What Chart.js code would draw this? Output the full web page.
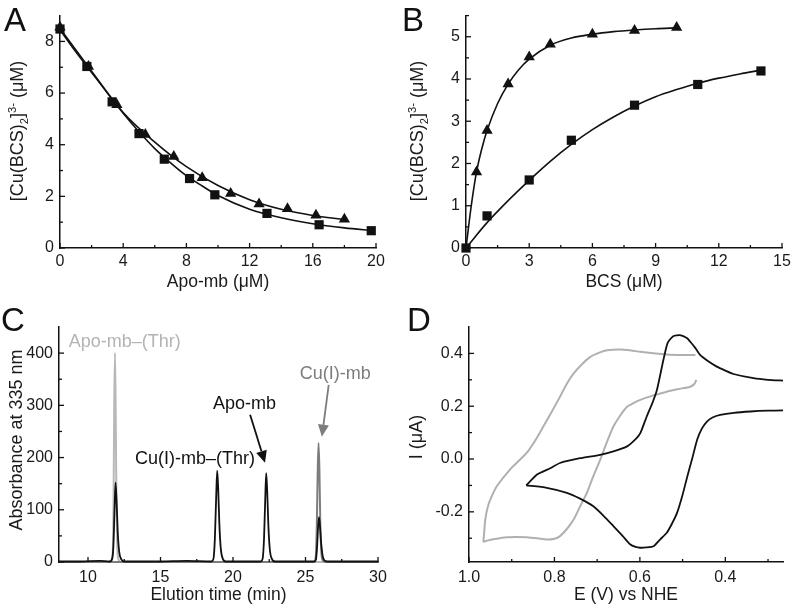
<!DOCTYPE html>
<html>
<head>
<meta charset="utf-8">
<script src="https://cdn.jsdelivr.net/npm/chart.js@4"></script>
<style>
body { margin: 0; background: #fff; font-family: "Liberation Sans", Arial, sans-serif; }
#fig { position: relative; width: 796px; height: 611px; overflow: hidden; }
canvas { position: absolute; }
.lab { position: absolute; font-size: 33px; line-height: 1; color: #111; }
.ytit { position: absolute; font-size: 18px; line-height: 1; color: #1a1a1a; white-space: nowrap; transform: translate(-50%, -50%) rotate(-90deg); }
.ytit sub, .ytit sup { font-size: 0.62em; line-height: 0; }
</style>
</head>
<body>
<div id="fig">
  <canvas id="cA" width="398" height="300" style="left:0;top:0"></canvas>
  <canvas id="cB" width="396" height="300" style="left:400px;top:0"></canvas>
  <canvas id="cC" width="398" height="311" style="left:0;top:300px"></canvas>
  <canvas id="cD" width="396" height="311" style="left:400px;top:300px"></canvas>
  <div class="lab" style="left:4px;top:3px">A</div>
  <div class="lab" style="left:402px;top:3px">B</div>
  <div class="lab" style="left:1px;top:303px">C</div>
  <div class="lab" style="left:407px;top:303px">D</div>
  <div class="ytit" style="left:17px;top:131px">[Cu(BCS)<sub>2</sub>]<sup>3-</sup> (μM)</div>
  <div class="ytit" style="left:417px;top:131px">[Cu(BCS)<sub>2</sub>]<sup>3-</sup> (μM)</div>
  <div class="ytit" style="left:16px;top:440px">Absorbance at 335 nm</div>
  <div class="ytit" style="left:416px;top:437px">I (μA)</div>
</div>
<script>
// ---- panel A : titration with apo-mb
const aSqX = [0, 1.7, 3.3, 5.0, 6.6, 8.2, 9.8, 13.1, 16.4, 19.7];
const aSqY = [8.48, 7.03, 5.66, 4.43, 3.44, 2.69, 2.06, 1.34, 0.9, 0.67];
const aTriX = [0, 1.8, 3.6, 5.4, 7.2, 9.0, 10.8, 12.6, 14.4, 16.2, 18.0];
const aTriY = [8.55, 7.03, 5.55, 4.4, 3.54, 2.72, 2.11, 1.7, 1.52, 1.27, 1.11];
const aSqFitX = [0, 1, 2, 3, 4, 5, 6, 7, 8, 9, 10, 12, 14, 16, 18, 19.8];
const aSqFitY = [8.45, 7.6, 6.8, 6.0, 5.22, 4.5, 3.85, 3.3, 2.8, 2.4, 2.03, 1.5, 1.17, 0.94, 0.78, 0.67];
const aTriFitX = [0, 2, 4, 6, 8, 10, 12, 14, 16, 18];
const aTriFitY = [8.5, 6.85, 5.25, 4.1, 3.15, 2.42, 1.87, 1.5, 1.26, 1.1];
const aXMajor = [0, 4, 8, 12, 16, 20], aXMinor = [2, 6, 10, 14, 18];
const aYMajor = [0, 2, 4, 6, 8], aYMinor = [1, 3, 5, 7];

// ---- panel B : BCS competition
const bTriX = [0.5, 1, 2, 3, 4, 6, 8, 10];
const bTriY = [1.8, 2.78, 3.88, 4.52, 4.82, 5.06, 5.15, 5.22];
const bSqX = [0, 1, 3, 5, 8, 11, 14];
const bSqY = [0, 0.76, 1.61, 2.55, 3.38, 3.87, 4.19];
const bTriFitX = [0, 0.25, 0.5, 0.75, 1, 1.5, 2, 2.5, 3, 4, 5, 6, 7, 8, 9, 10];
const bTriFitY = [0, 1.0, 1.8, 2.35, 2.78, 3.42, 3.88, 4.22, 4.47, 4.8, 4.97, 5.06, 5.12, 5.16, 5.19, 5.21];
const bSqFitX = [0, 1, 2, 3, 4, 5, 6, 7, 8, 9, 10, 11, 12, 13, 14];
const bSqFitY = [0, 0.6, 1.12, 1.6, 2.05, 2.45, 2.8, 3.1, 3.36, 3.58, 3.75, 3.9, 4.02, 4.12, 4.21];
const bXMajor = [0, 3, 6, 9, 12, 15], bXMinor = [1.5, 4.5, 7.5, 10.5, 13.5];
const bYMajor = [0, 1, 2, 3, 4, 5], bYMinor = [0.5, 1.5, 2.5, 3.5, 4.5, 5.5];

// ---- panel C : HPLC traces
const cBlackT = [8, 9.5, 10.8, 11.5, 11.65, 11.75, 11.83, 11.9, 11.97, 12.05, 12.15, 12.3, 12.5, 15, 16.8, 18.5, 18.65, 18.75, 18.84, 18.91, 18.98, 19.06, 19.16, 19.3, 19.5, 21.9, 22.04, 22.14, 22.22, 22.29, 22.36, 22.44, 22.54, 22.68, 22.9, 25.6, 25.72, 25.8, 25.87, 25.93, 26.0, 26.08, 26.18, 26.3, 26.5, 30];
const cBlackA = [1, 1, 2, 1, 5, 30, 100, 152, 118, 58, 20, 5, 1, 1, 2, 1, 6, 45, 125, 175, 140, 72, 25, 6, 1, 1, 6, 45, 118, 170, 135, 70, 24, 6, 1, 1, 5, 30, 68, 86, 68, 36, 12, 3, 1, 1];
const cLightT = [8, 11.6, 11.7, 11.76, 11.81, 11.86, 11.91, 11.96, 12.02, 12.1, 12.25, 30];
const cLightA = [0, 0, 12, 110, 300, 400, 290, 120, 30, 5, 0, 0];
const cDarkT = [8, 25.6, 25.71, 25.78, 25.84, 25.9, 25.96, 26.02, 26.09, 26.18, 26.32, 30];
const cDarkA = [0, 0, 10, 70, 170, 228, 175, 75, 20, 4, 0, 0];
const cLabelText = ['Apo-mb–(Thr)', 'Cu(I)-mb–(Thr)', 'Apo-mb', 'Cu(I)-mb'];
const cLabelX = [12.54, 17.38, 20.8, 27.05];
const cLabelY = [422, 197, 303, 360];
const cLabelColor = ['#b3b3b3', '#111', '#111', '#7d7d7d'];
const cArrowFrom = [[21.18, 282], [26.6, 339]];
const cArrowTo = [[22.21, 190], [26.13, 240]];
const cArrowColor = ['#111', '#7d7d7d'];
const cXMajor = [10, 15, 20, 25, 30], cXMinor = [12.5, 17.5, 22.5, 27.5];
const cYMajor = [0, 100, 200, 300, 400], cYMinor = [50, 150, 250, 350];

// ---- panel D : cyclic voltammograms
const dBlackUpV = [0.866, 0.84, 0.81, 0.787, 0.74, 0.693, 0.66, 0.63, 0.61, 0.599, 0.584, 0.57, 0.56, 0.545, 0.535, 0.522, 0.506, 0.49, 0.482, 0.47, 0.459, 0.44, 0.42, 0.40, 0.381, 0.334, 0.30, 0.265];
const dBlackUpI = [-0.1, -0.058, -0.035, -0.015, 0.003, 0.016, 0.03, 0.048, 0.075, 0.098, 0.161, 0.215, 0.262, 0.375, 0.44, 0.465, 0.469, 0.458, 0.444, 0.42, 0.394, 0.37, 0.35, 0.335, 0.322, 0.306, 0.3, 0.297];
const dBlackDnV = [0.866, 0.818, 0.771, 0.74, 0.709, 0.685, 0.662, 0.64, 0.623, 0.61, 0.599, 0.585, 0.568, 0.553, 0.537, 0.525, 0.513, 0.5, 0.489, 0.477, 0.466, 0.455, 0.443, 0.43, 0.412, 0.38, 0.341, 0.30, 0.265];
const dBlackDnI = [-0.1, -0.109, -0.128, -0.15, -0.179, -0.215, -0.254, -0.292, -0.323, -0.333, -0.336, -0.335, -0.33, -0.305, -0.279, -0.245, -0.204, -0.135, -0.066, 0.005, 0.073, 0.115, 0.142, 0.157, 0.167, 0.175, 0.18, 0.183, 0.184];
const dGrayV = [0.468, 0.472, 0.482, 0.51, 0.537, 0.57, 0.599, 0.615, 0.63, 0.646, 0.662, 0.677, 0.693, 0.709, 0.724, 0.74, 0.755, 0.771, 0.787, 0.80, 0.818, 0.84, 0.865, 0.89, 0.912, 0.94, 0.958, 0.966, 0.965, 0.962, 0.955, 0.945, 0.935, 0.904, 0.865, 0.845, 0.826, 0.806, 0.787, 0.771, 0.755, 0.735, 0.716, 0.695, 0.677, 0.646, 0.62, 0.599, 0.537, 0.50, 0.47];
const dGrayI = [0.30, 0.285, 0.274, 0.265, 0.255, 0.24, 0.224, 0.212, 0.198, 0.165, 0.123, 0.065, -0.003, -0.065, -0.128, -0.18, -0.229, -0.265, -0.292, -0.302, -0.305, -0.30, -0.296, -0.295, -0.296, -0.303, -0.309, -0.313, -0.29, -0.23, -0.175, -0.135, -0.103, -0.04, 0.023, 0.07, 0.123, 0.18, 0.236, 0.285, 0.324, 0.36, 0.387, 0.403, 0.412, 0.415, 0.411, 0.406, 0.396, 0.394, 0.394];
const dXMajor = [1.0, 0.8, 0.6, 0.4], dXMinor = [0.9, 0.7, 0.5, 0.3];
const dYMajor = [-0.2, 0, 0.2, 0.4], dYMinor = [-0.3, -0.1, 0.1, 0.3];

Chart.defaults.font.family = '"Liberation Sans", Arial, sans-serif';
Chart.defaults.color = '#1a1a1a';

const BLACK = '#111';
const pts = (xs, ys) => xs.map((x, i) => ({x, y: ys[i]}));

function tickMarks(xMaj, xMin, yMaj, yMin) {
    return {
        id: 'tickMarks',
        afterDraw(chart) {
            const {ctx, chartArea: a, scales: {x, y}} = chart;
            ctx.save();
            ctx.strokeStyle = BLACK;
            ctx.lineWidth = 1.3;
            const seg = (x1, y1, x2, y2) => { ctx.beginPath(); ctx.moveTo(x1, y1); ctx.lineTo(x2, y2); ctx.stroke(); };
            xMaj.forEach(v => { const p = x.getPixelForValue(v); seg(p, a.bottom, p, a.bottom - 5); });
            xMin.forEach(v => { const p = x.getPixelForValue(v); seg(p, a.bottom, p, a.bottom - 3); });
            yMaj.forEach(v => { const p = y.getPixelForValue(v); seg(a.left, p, a.left + 5, p); });
            yMin.forEach(v => { const p = y.getPixelForValue(v); seg(a.left, p, a.left + 3, p); });
            ctx.restore();
        }
    };
}

function xAxis(min, max, ticks, title, pad, height, titlePad, fmt, reverse) {
    return {
        type: 'linear', min, max, reverse: !!reverse,
        grid: { display: false, drawTicks: false },
        border: { color: BLACK, width: 1.5 },
        afterBuildTicks: s => { s.ticks = ticks.map(v => ({ value: v })); },
        afterFit: s => { s.height = height; },
        ticks: { padding: pad, font: { size: 16 }, autoSkip: false, maxRotation: 0, callback: fmt || (v => v) },
        title: { display: true, text: title, font: { size: 17.5 }, padding: { top: 0, bottom: titlePad } }
    };
}

function yAxis(min, max, ticks, width, fmt) {
    return {
        type: 'linear', min, max,
        grid: { display: false, drawTicks: false },
        border: { color: BLACK, width: 1.5 },
        afterBuildTicks: s => { s.ticks = ticks.map(v => ({ value: v })); },
        afterFit: s => { s.width = width; },
        ticks: { padding: 6, font: { size: 16 }, autoSkip: false, callback: fmt || (v => v) }
    };
}

function markers(xs, ys, style) {
    return { data: pts(xs, ys), pointStyle: style, pointRadius: 6.5, pointBackgroundColor: BLACK, pointBorderColor: BLACK, pointBorderWidth: 0, showLine: false, clip: false };
}
function curve(xs, ys, color, w, mono) {
    return { data: pts(xs, ys), showLine: true, pointRadius: 0, borderColor: color, borderWidth: w,
        cubicInterpolationMode: mono ? 'monotone' : 'default', tension: mono ? 0 : 0.2, clip: false };
}

function baseOpts(pad, scales) {
    return {
        responsive: false, animation: false, events: [],
        layout: { padding: pad, autoPadding: false },
        plugins: { legend: { display: false }, tooltip: { enabled: false } },
        scales
    };
}

// A
new Chart(document.getElementById('cA'), {
    type: 'scatter',
    data: { datasets: [
        markers(aSqX, aSqY, 'rect'),
        markers(aTriX, aTriY, 'triangle'),
        curve(aSqFitX, aSqFitY, BLACK, 1.6, true),
        curve(aTriFitX, aTriFitY, BLACK, 1.6, true)
    ] },
    options: baseOpts({ top: 12, right: 22, left: 0, bottom: 0 }, {
        x: xAxis(0, 20, aXMajor, 'Apo-mb (μM)', 4, 52, 7),
        y: yAxis(0, 9, aYMajor, 60)
    }),
    plugins: [tickMarks(aXMajor, aXMinor, aYMajor, aYMinor)]
});

// B
new Chart(document.getElementById('cB'), {
    type: 'scatter',
    data: { datasets: [
        markers(bSqX, bSqY, 'rect'),
        markers(bTriX, bTriY, 'triangle'),
        curve(bSqFitX, bSqFitY, BLACK, 1.6, true),
        curve(bTriFitX, bTriFitY, BLACK, 1.6, true)
    ] },
    options: baseOpts({ top: 13, right: 14, left: 0, bottom: 0 }, {
        x: xAxis(0, 15, bXMajor, 'BCS (μM)', 4, 52, 7),
        y: yAxis(0, 5.5, bYMajor, 66)
    }),
    plugins: [tickMarks(bXMajor, bXMinor, bYMajor, bYMinor)]
});

// C
const notes = {
    id: 'notes',
    afterDatasetsDraw(chart) {
        const {ctx, scales: {x, y}} = chart;
        ctx.save();
        ctx.font = '18px "Liberation Sans", Arial, sans-serif';
        ctx.textAlign = 'center';
        ctx.textBaseline = 'middle';
        cLabelText.forEach((t, i) => {
            ctx.fillStyle = cLabelColor[i];
            ctx.fillText(t, x.getPixelForValue(cLabelX[i]), y.getPixelForValue(cLabelY[i]));
        });
        cArrowFrom.forEach((f, i) => {
            const x1 = x.getPixelForValue(f[0]), y1 = y.getPixelForValue(f[1]);
            const x2 = x.getPixelForValue(cArrowTo[i][0]), y2 = y.getPixelForValue(cArrowTo[i][1]);
            const ang = Math.atan2(y2 - y1, x2 - x1), hl = 12, hw = 5.5;
            ctx.strokeStyle = ctx.fillStyle = cArrowColor[i];
            ctx.lineWidth = 1.8;
            ctx.beginPath();
            ctx.moveTo(x1, y1);
            ctx.lineTo(x2 - Math.cos(ang) * hl, y2 - Math.sin(ang) * hl);
            ctx.stroke();
            ctx.beginPath();
            ctx.moveTo(x2, y2);
            ctx.lineTo(x2 - Math.cos(ang) * hl - Math.sin(ang) * hw, y2 - Math.sin(ang) * hl + Math.cos(ang) * hw);
            ctx.lineTo(x2 - Math.cos(ang) * hl + Math.sin(ang) * hw, y2 - Math.sin(ang) * hl - Math.cos(ang) * hw);
            ctx.closePath();
            ctx.fill();
        });
        ctx.restore();
    }
};
new Chart(document.getElementById('cC'), {
    type: 'scatter',
    data: { datasets: [
        curve(cBlackT, cBlackA, BLACK, 1.8, true),
        curve(cDarkT, cDarkA, '#7d7d7d', 2, true),
        curve(cLightT, cLightA, '#b8b8b8', 2, true)
    ] },
    options: baseOpts({ top: 27, right: 20, left: 0, bottom: 0 }, {
        x: xAxis(8, 30, cXMajor, 'Elution time (min)', 6, 49, 5.5),
        y: yAxis(0, 450, cYMajor, 59)
    }),
    plugins: [tickMarks(cXMajor, cXMinor, cYMajor, cYMinor), notes]
});

// D
new Chart(document.getElementById('cD'), {
    type: 'scatter',
    data: { datasets: [
        curve(dBlackUpV, dBlackUpI, BLACK, 1.8, false),
        curve(dBlackDnV, dBlackDnI, BLACK, 1.8, false),
        curve(dGrayV, dGrayI, '#b0b0b0', 2, false)
    ] },
    options: baseOpts({ top: 27, right: 13, left: 0, bottom: 0 }, {
        x: xAxis(0.265, 1.0, dXMajor, 'E (V) vs NHE', 6, 49, 5.5, v => v.toFixed(1), true),
        y: yAxis(-0.39, 0.5, dYMajor, 69, v => v.toFixed(1))
    }),
    plugins: [tickMarks(dXMajor, dXMinor, dYMajor, dYMinor)]
});
</script>
</body>
</html>
